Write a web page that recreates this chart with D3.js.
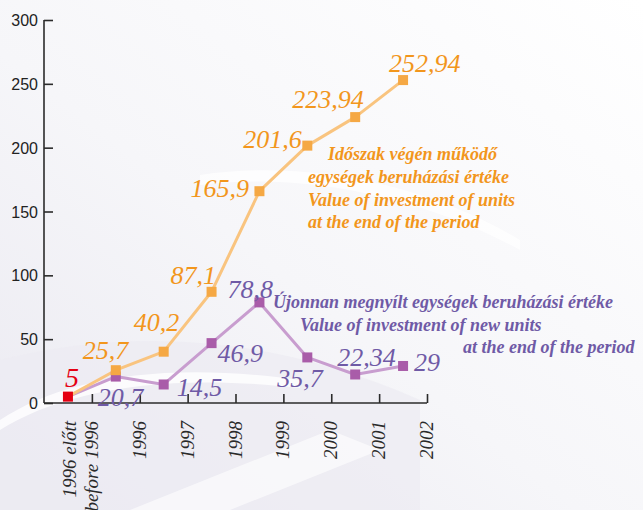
<!DOCTYPE html>
<html>
<head>
<meta charset="utf-8">
<script src="https://cdn.jsdelivr.net/npm/d3@7"></script>
<style>
  html, body { margin: 0; padding: 0; background: #ffffff; }
  svg { display: block; }
</style>
</head>
<body>
<svg id="chart" width="643" height="510"></svg>
<script>
// ---- data ----
const periods = ["p0", "p1", "p2", "p3", "p4", "p5", "p6", "p7"];
const tickLabels = [["1996 előtt", "before 1996"], ["1996"], ["1997"], ["1998"], ["1999"], ["2000"], ["2001"], ["2002"]];
const endOfPeriodValues = [5, 25.7, 40.2, 87.1, 165.9, 201.6, 223.94, 252.94];
const newUnitValues = [5, 20.7, 14.5, 46.9, 78.8, 35.7, 22.34, 29];
const yTicks = [0, 50, 100, 150, 200, 250, 300];
const legendEnd = ["Időszak végén működő", "egységek beruházási értéke", "Value of investment of units", "at the end of the period"];
const legendNew = ["Újonnan megnyílt egységek beruházási értéke", "Value of investment of new units", "at the end of the period"];

// ---- layout / style ----
const endLabelOffsets = [null, [-33, -11], [-30, -21], [-41, -8], [-69, 6], [-64, 2], [-63, -9], [-14, -8]];
const newLabelOffsets = [null, [-18, 29], [13, 12], [6, 19], [-32, -4], [-30, 30], [-18, -8], [11, 5]];
const C = {
  endLine: "#f9c47f", endMark: "#f5a844", endText: "#f2961c",
  newLine: "#c89dcf", newMark: "#a95ca9", newText: "#6f5aa6",
  red: "#e50012", axis: "#2b2b2b"
};

const svg = d3.select("#chart");
const W = 643, H = 510;

// background
const defs = svg.append("defs");
const g1 = defs.append("linearGradient").attr("id", "bg").attr("x1", "0").attr("y1", "1").attr("x2", "1").attr("y2", "0");
g1.append("stop").attr("offset", "0").attr("stop-color", "#eae9f1");
g1.append("stop").attr("offset", "0.45").attr("stop-color", "#f6f6f9");
g1.append("stop").attr("offset", "1").attr("stop-color", "#ffffff");
svg.append("rect").attr("width", W).attr("height", H).attr("fill", "url(#bg)");
svg.append("path").attr("d", "M0,360 C120,330 260,330 420,400 L420,510 L0,510 Z").attr("fill", "#ecebf2").attr("opacity", 0.7);
svg.append("path").attr("d", "M130,510 L330,430 L380,450 L230,510 Z").attr("fill", "#ffffff").attr("opacity", 0.6);
svg.append("path").attr("d", "M0,420 C60,380 160,360 300,380 L300,388 C160,372 60,392 0,430 Z").attr("fill", "#ffffff").attr("opacity", 0.8);
svg.append("path").attr("d", "M200,175 C300,160 420,180 520,240 L520,250 C420,195 300,172 200,185 Z").attr("fill", "#ffffff").attr("opacity", 0.7);

// scales
const x = d3.scaleBand().domain(periods).range([44, 427]).padding(0);
const y = d3.scaleLinear().domain([0, 300]).range([403, 20]);
const cx = i => x(periods[i]) + x.bandwidth() / 2;

// y axis
const yAxis = svg.append("g").attr("transform", "translate(44,0)")
  .call(d3.axisRight(y).tickValues(yTicks).tickSize(9).tickFormat(""));
yAxis.select(".domain").attr("stroke", C.axis).attr("stroke-width", 1.6).attr("d", `M0,${y(300)}V${y(0)}`);
yAxis.selectAll(".tick line").attr("stroke", C.axis).attr("stroke-width", 1.6);
svg.append("g").selectAll("text").data(yTicks).join("text")
  .attr("x", 38).attr("y", d => y(d) + 6)
  .attr("text-anchor", "end")
  .attr("font-family", "'Liberation Sans', Arial, sans-serif")
  .attr("font-size", 16).attr("fill", "#222")
  .text(d => d);

// x axis
const xAxis = svg.append("g").attr("transform", `translate(0,${y(0)})`)
  .call(d3.axisTop(d3.scaleLinear().domain([0, periods.length]).range([44, 427]))
    .tickValues(d3.range(1, periods.length + 1)).tickSize(9).tickFormat(""));
xAxis.select(".domain").attr("stroke", C.axis).attr("stroke-width", 1.6).attr("d", "M44,0H427");
xAxis.selectAll(".tick line").attr("stroke", C.axis).attr("stroke-width", 1.6);

// x tick labels (rotated, at band right edges)
tickLabels.forEach((lines, i) => {
  const tx = x(periods[i]) + x.bandwidth();
  lines.forEach((ln, k) => {
    const off = (k - (lines.length - 1)) * 22;
    svg.append("text")
      .attr("transform", `translate(${tx + off + 6},421) rotate(-90)`)
      .attr("text-anchor", "end")
      .attr("font-family", "'Liberation Serif', 'Times New Roman', serif")
      .attr("font-style", "italic")
      .attr("font-size", 19).attr("fill", "#2a2a2a")
      .text(ln);
  });
});

// lines
const line = d3.line().x((d, i) => cx(i)).y(d => y(d));
svg.append("path").datum(newUnitValues).attr("d", line)
  .attr("fill", "none").attr("stroke", C.newLine).attr("stroke-width", 3).attr("stroke-linejoin", "round");
svg.append("path").datum(endOfPeriodValues).attr("d", line)
  .attr("fill", "none").attr("stroke", C.endLine).attr("stroke-width", 3).attr("stroke-linejoin", "round");

// markers
const ms = 10;
svg.append("g").selectAll("rect").data(newUnitValues.slice(1)).join("rect")
  .attr("x", (d, i) => cx(i + 1) - ms / 2).attr("y", d => y(d) - ms / 2)
  .attr("width", ms).attr("height", ms).attr("fill", C.newMark);
svg.append("g").selectAll("rect").data(endOfPeriodValues.slice(1)).join("rect")
  .attr("x", (d, i) => cx(i + 1) - ms / 2).attr("y", d => y(d) - ms / 2)
  .attr("width", ms).attr("height", ms).attr("fill", C.endMark);
svg.append("rect").attr("x", cx(0) - ms / 2).attr("y", y(endOfPeriodValues[0]) - ms / 2)
  .attr("width", ms).attr("height", ms).attr("fill", C.red);

// value labels
const fmt = v => String(v).replace(".", ",");
const labelFont = "'Liberation Serif', 'Times New Roman', serif";
function valueLabels(vals, offs, color) {
  vals.forEach((v, i) => {
    if (!offs[i]) return;
    svg.append("text")
      .attr("x", cx(i) + offs[i][0]).attr("y", y(v) + offs[i][1])
      .attr("font-family", labelFont).attr("font-style", "italic")
      .attr("font-size", 26).attr("fill", color)
      .text(fmt(v));
  });
}
valueLabels(endOfPeriodValues, endLabelOffsets, C.endText);
valueLabels(newUnitValues, newLabelOffsets, C.newText);
svg.append("text").attr("x", cx(0) - 3).attr("y", y(endOfPeriodValues[0]) - 10)
  .attr("font-family", labelFont).attr("font-style", "italic")
  .attr("font-size", 28).attr("fill", C.red).text(fmt(endOfPeriodValues[0]));

// legends
const legFont = { family: "'Liberation Serif', 'Times New Roman', serif", size: 18 };
const endLegPos = [[328, 160], [308, 183], [308, 206], [308, 228]];
legendEnd.forEach((t, i) => {
  svg.append("text").attr("x", endLegPos[i][0]).attr("y", endLegPos[i][1])
    .attr("font-family", legFont.family).attr("font-style", "italic").attr("font-weight", "bold")
    .attr("font-size", legFont.size).attr("fill", C.endText).text(t);
});
const newLegPos = [[273, 308], [300, 331], [463, 353]];
legendNew.forEach((t, i) => {
  svg.append("text").attr("x", newLegPos[i][0]).attr("y", newLegPos[i][1])
    .attr("font-family", legFont.family).attr("font-style", "italic").attr("font-weight", "bold")
    .attr("font-size", legFont.size).attr("fill", C.newText).text(t);
});
</script>
</body>
</html>
